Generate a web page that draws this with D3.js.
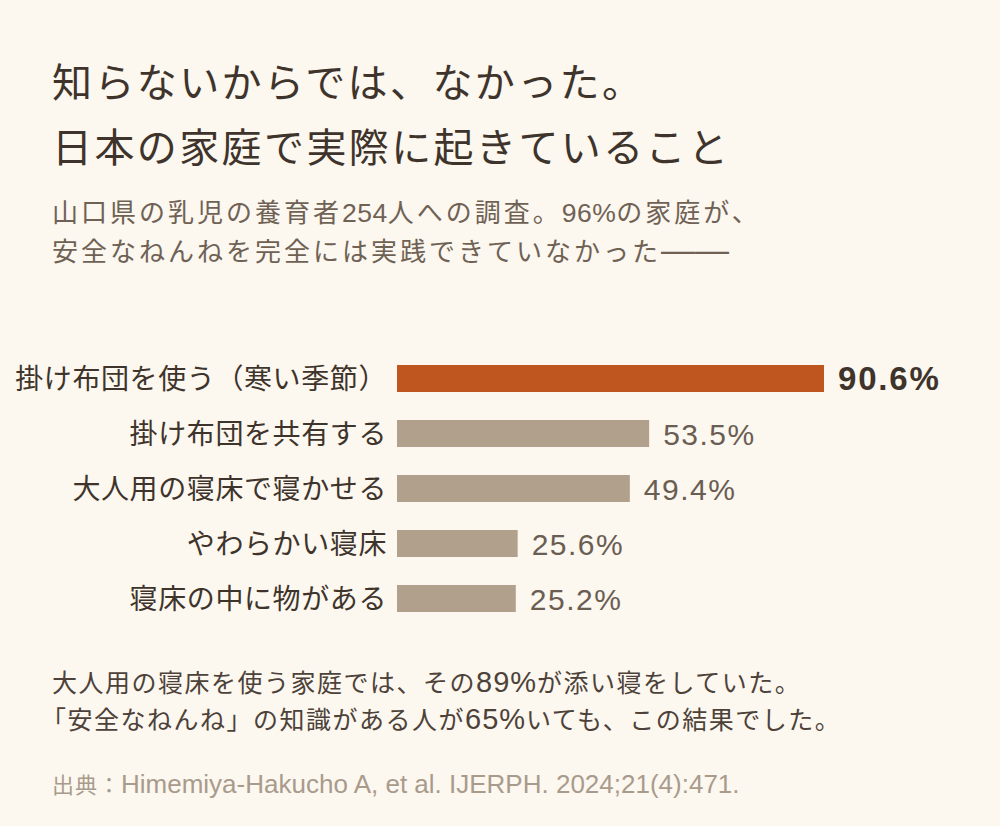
<!DOCTYPE html>
<html lang="ja">
<head>
<meta charset="utf-8">
<script src="https://cdn.jsdelivr.net/npm/d3@7"></script>
<style>
  html, body { margin: 0; padding: 0; background: #fcf7ef; }
  svg { display: block; font-family: "Noto Sans CJK JP", "Noto Sans", sans-serif; }
  text { white-space: pre; }
</style>
</head>
<body>
<svg id="chart" width="1000" height="826"></svg>
<script>
    // data
    var categories = ["掛け布団を使う（寒い季節）", "掛け布団を共有する", "大人用の寝床で寝かせる", "やわらかい寝床", "寝床の中に物がある"];
    var values = [90.6, 53.5, 49.4, 25.6, 25.2];
    var titleLines = ["知らないからでは、なかった。", "日本の家庭で実際に起きていること"];
    var subtitleLines = ["山口県の乳児の養育者254人への調査。96%の家庭が、", "安全なねんねを完全には実践できていなかった——"];
    var noteLines = ["大人用の寝床を使う家庭では、その89%が添い寝をしていた。", "「安全なねんね」の知識がある人が65%いても、この結果でした。"];
    var sourceText = "出典：Himemiya-Hakucho A, et al. IJERPH. 2024;21(4):471.";

    var latinFont = "'Liberation Sans', Arial, sans-serif";

    var svg = d3.select("#chart");

    var margin = { left: 397, top: 365 };

    var x = d3.scaleLinear()
        .domain([0, 100])
        .range([0, 471.3]);

    // step 55px, bars 27px tall
    var y = d3.scaleBand()
        .domain(categories)
        .range([0, 55 * 5 - 28])
        .paddingInner(28 / 55)
        .paddingOuter(0);

    // split a string into CJK / latin / dash runs, latin runs get their own font
    function mixedText(sel, str, opt){
        str.split(/([\x20-\x7E]+|—+)/).forEach(function(p){
            if(!p) return;
            var t = sel.append("tspan").text(p);
            if(/^[\x20-\x7E]+$/.test(p)){
                t.style("font-family", latinFont)
                    .style("font-size", opt.latinSize + "px")
                    .style("letter-spacing", (opt.latinLs || 0) + "px");
            } else if(/^—+$/.test(p) && opt.dashSize){
                t.style("font-family", latinFont)
                    .style("font-size", opt.dashSize + "px")
                    .style("letter-spacing", "0px");
            }
        });
    }

    // title
    svg.selectAll(".title")
        .data(titleLines)
        .enter()
        .append("text")
        .classed("title", true)
        .attr("x", 52)
        .attr("y", function(d, i){ return 97 + i * 65; })
        .style("font-size", "40px")
        .style("letter-spacing", "2.4px")
        .style("fill", "#3e342c")
        .text(function(d){ return d; });

    // subtitle
    svg.selectAll(".subtitle")
        .data(subtitleLines)
        .enter()
        .append("text")
        .classed("subtitle", true)
        .attr("x", 52)
        .attr("y", function(d, i){ return 222 + i * 39; })
        .style("font-size", "26px")
        .style("letter-spacing", "3px")
        .style("fill", "#6f6255")
        .each(function(d){
            mixedText(d3.select(this), d, { latinSize: 26.5, latinLs: 0.5, dashSize: 34 });
        });

    var chart = svg.append("g")
        .attr("transform", "translate(" + margin.left + "," + margin.top + ")");

    chart.selectAll(".bar")
        .data(values)
        .enter()
        .append("rect")
        .classed("bar", true)
        .attr("x", 0)
        .attr("y", function(d, i){ return y(categories[i]); })
        .attr("width", function(d){ return x(d); })
        .attr("height", y.bandwidth())
        .style("fill", function(d, i){ return i === 0 ? "#bf5620" : "#b1a08b"; });

    // category labels
    chart.selectAll(".cat-label")
        .data(categories)
        .enter()
        .append("text")
        .classed("cat-label", true)
        .attr("x", -10)
        .attr("y", function(d){ return y(d) + y.bandwidth() / 2; })
        .attr("dy", "0.36em")
        .style("text-anchor", "end")
        .style("font-size", "28px")
        .style("letter-spacing", "0.6px")
        .style("fill", "#3e342c")
        .text(function(d){ return d; });

    // value labels
    chart.selectAll(".bar-label")
        .data(values)
        .enter()
        .append("text")
        .classed("bar-label", true)
        .attr("x", function(d){ return x(d) + 14; })
        .attr("y", function(d, i){ return y(categories[i]) + y.bandwidth() / 2 + 11; })
        .style("font-family", latinFont)
        .style("font-size", function(d, i){ return i === 0 ? "33px" : "30px"; })
        .style("letter-spacing", function(d, i){ return i === 0 ? "1.8px" : "1.5px"; })
        .style("font-weight", function(d, i){ return i === 0 ? 700 : 400; })
        .style("fill", function(d, i){ return i === 0 ? "#3e342c" : "#6a5d52"; })
        .text(function(d){ return d.toFixed(1) + "%"; });

    // notes
    svg.selectAll(".note")
        .data(noteLines)
        .enter()
        .append("text")
        .classed("note", true)
        .attr("x", function(d, i){ return i === 0 ? 52 : 41; })
        .attr("y", function(d, i){ return 692 + i * 37; })
        .style("font-size", "25px")
        .style("letter-spacing", "1.5px")
        .style("fill", "#4d4239")
        .each(function(d){
            mixedText(d3.select(this), d, { latinSize: 29, latinLs: 1 });
        });

    svg.append("text")
        .attr("x", 52)
        .attr("y", 793)
        .style("font-size", "22px")
        .style("letter-spacing", "1px")
        .style("fill", "#a99b8c")
        .each(function(){
            mixedText(d3.select(this), sourceText, { latinSize: 26, latinLs: 0 });
        });
</script>
</body>
</html>
